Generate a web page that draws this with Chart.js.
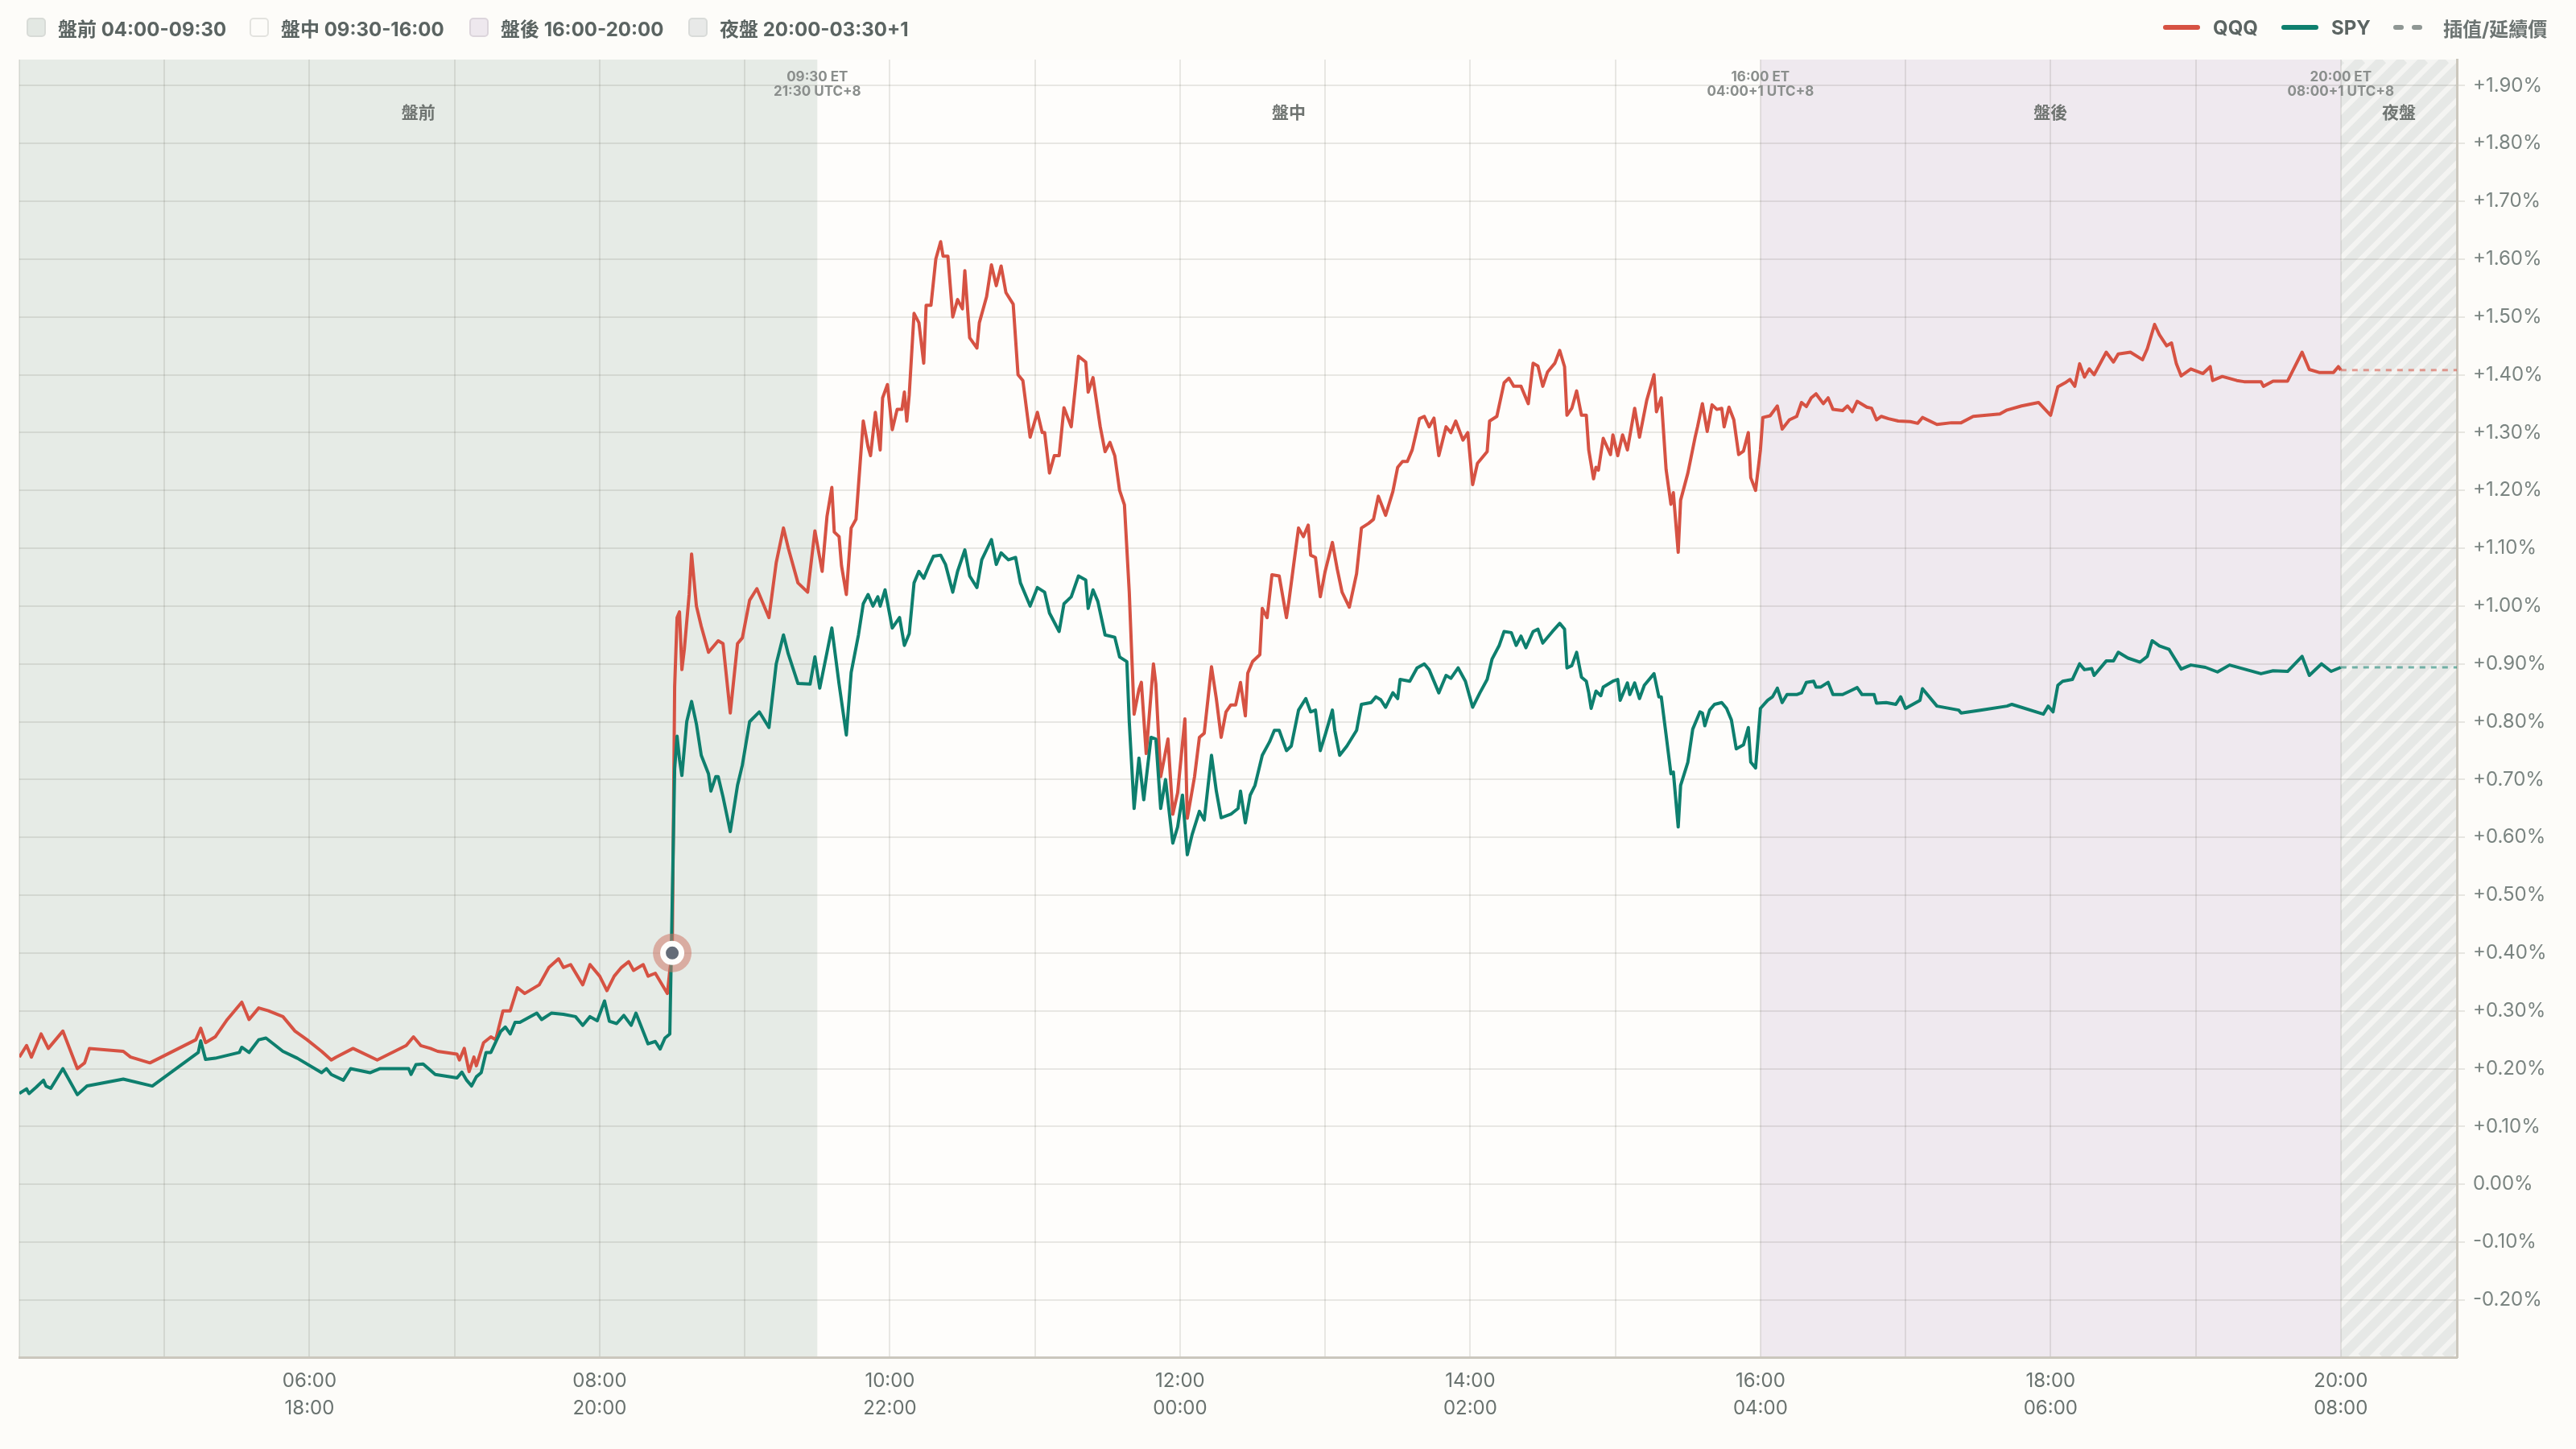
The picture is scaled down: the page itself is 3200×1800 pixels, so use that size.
<!DOCTYPE html>
<html>
<head>
<meta charset="utf-8">
<script src="https://cdn.jsdelivr.net/npm/chart.js@4.4.0/dist/chart.umd.min.js"></script>
<style>
    html, body { margin: 0; padding: 0; background: #fdfcf9; }
    #wrap { position: relative; width: 3200px; height: 1800px; overflow: hidden; }
    #chart { position: absolute; left: 0; top: 0; }
    .lg { position: absolute; top: 14px; height: 40px; display: flex; align-items: center;
          font-family: Inter, "Noto Sans CJK TC", sans-serif; font-weight: 700; font-size: 24px; color: #5b6462; white-space: nowrap; }
    .box { width: 20px; height: 20px; border-radius: 5px; border: 2px solid #d8dbd7; margin-right: 15px; }
    .swatch { width: 46px; height: 6px; border-radius: 3px; margin-right: 16px; }
    .dash { width: 13px; height: 6px; border-radius: 3px; background: #8f9794; margin-right: 10px; }
</style>
</head>
<body>
<div id="wrap">
    <canvas id="chart" width="3200" height="1800"></canvas>
    <div class="lg" style="left:33px"><div class="box" style="background:#e3e8e3"></div><span id="s0"></span></div>
    <div class="lg" style="left:310px"><div class="box" style="background:#fdfcf9;border-color:#e3e3df"></div><span id="s1"></span></div>
    <div class="lg" style="left:583px"><div class="box" style="background:#eee8ee;border-color:#dcd5dc"></div><span id="s2"></span></div>
    <div class="lg" style="left:855px"><div class="box" style="background:#e8e9e8;border-color:#d9dbd9"></div><span id="s3"></span></div>
    <div class="lg" style="left:2687px"><div class="swatch" style="background:#d65243"></div><span id="n0"></span></div>
    <div class="lg" style="left:2834px"><div class="swatch" style="background:#0e7f6e"></div><span id="n1"></span></div>
    <div class="lg" style="left:2973px"><div class="dash"></div><div class="dash" style="margin-right:26px"></div><span id="n2" style="color:#6d7573"></span></div>
</div>
<script>
// sessions (ET)
const sessionNames = ["盤前", "盤中", "盤後", "夜盤"];
const sessionRanges = ["04:00-09:30", "09:30-16:00", "16:00-20:00", "20:00-03:30+1"];
const sessionStarts = ["04:00", "09:30", "16:00", "20:00"];
const boundaryTimes = ["09:30", "16:00", "20:00"];
const boundaryEt = ["09:30 ET", "16:00 ET", "20:00 ET"];
const boundaryLocal = ["21:30 UTC+8", "04:00+1 UTC+8", "08:00+1 UTC+8"];
const seriesNames = ["QQQ", "SPY", "插值/延續價"];

// event marker
const eventTime = "08:30";
const eventPct = 0.40;

// y axis range (%)
const yMin = -0.299;
const yMax = 1.945;
const xEndTime = "20:48";

// QQQ % change
const qqqTimes = [
    "04:00","04:03","04:05","04:09","04:12","04:18","04:24","04:27","04:29","04:43",
    "04:46","04:54","05:13","05:15","05:17","05:21","05:26","05:32","05:35","05:39",
    "05:43","05:49","05:54","05:59","06:05","06:09","06:11","06:18","06:28","06:40",
    "06:43","06:46","06:50","06:53","07:01","07:02","07:04","07:06","07:08","07:09",
    "07:12","07:15","07:17","07:20","07:23","07:26","07:29","07:35","07:39","07:43",
    "07:45","07:48","07:53","07:56","08:00","08:03","08:06","08:09","08:12","08:14",
    "08:18","08:20","08:23","08:28","08:29","08:30","08:31","08:32","08:33","08:34",
    "08:35","08:37","08:38","08:40","08:42","08:45","08:49","08:51","08:54","08:57",
    "08:59","09:02","09:05","09:10","09:13","09:16","09:18","09:22","09:26","09:29",
    "09:32","09:34","09:36","09:37","09:39","09:40","09:42","09:44","09:46","09:47",
    "09:49","09:51","09:52","09:54","09:56","09:57","09:59","10:01","10:03","10:05",
    "10:06","10:07","10:08","10:10","10:12","10:14","10:15","10:17","10:19","10:21",
    "10:22","10:24","10:26","10:28","10:30","10:31","10:33","10:36","10:37","10:40",
    "10:42","10:44","10:46","10:48","10:51","10:53","10:55","10:58","11:01","11:03",
    "11:04","11:06","11:08","11:10","11:12","11:15","11:17","11:18","11:21","11:22",
    "11:24","11:27","11:29","11:31","11:33","11:35","11:37","11:39","11:41","11:43",
    "11:44","11:46","11:49","11:50","11:52","11:55","11:57","11:59","12:02","12:03",
    "12:06","12:08","12:10","12:13","12:15","12:17","12:19","12:21","12:23","12:25",
    "12:27","12:28","12:30","12:33","12:34","12:36","12:38","12:41","12:44","12:45",
    "12:47","12:49","12:51","12:53","12:54","12:56","12:58","13:00","13:03","13:05",
    "13:07","13:10","13:13","13:15","13:18","13:20","13:22","13:25","13:28","13:30",
    "13:32","13:34","13:36","13:39","13:41","13:43","13:45","13:47","13:50","13:52",
    "13:54","13:57","13:59","14:01","14:03","14:07","14:08","14:11","14:14","14:16",
    "14:18","14:21","14:24","14:26","14:28","14:30","14:32","14:35","14:37","14:39",
    "14:40","14:42","14:44","14:46","14:48","14:49","14:51","14:52","14:53","14:55",
    "14:58","14:59","15:01","15:03","15:05","15:08","15:10","15:13","15:16","15:17",
    "15:19","15:21","15:23","15:24","15:26","15:27","15:30","15:33","15:34","15:36",
    "15:38","15:40","15:42","15:44","15:45","15:47","15:49","15:51","15:53","15:55",
    "15:56","15:58","16:00","16:01","16:04","16:07","16:09","16:12","16:15","16:17",
    "16:19","16:21","16:23","16:26","16:28","16:30","16:34","16:36","16:38","16:40",
    "16:44","16:46","16:48","16:50","16:53","16:57","17:02","17:05","17:07","17:13",
    "17:19","17:23","17:28","17:39","17:42","17:48","17:55","18:00","18:03","18:06",
    "18:08","18:10","18:12","18:14","18:16","18:18","18:23","18:26","18:28","18:33",
    "18:38","18:40","18:43","18:45","18:48","18:50","18:52","18:54","18:58","19:03",
    "19:06","19:07","19:11","19:17","19:20","19:27","19:28","19:32","19:38","19:44",
    "19:47","19:51","19:57","19:59","20:00"
];
const qqqPct = [
    0.22,0.24,0.22,0.26,0.235,0.265,0.20,0.21,0.235,0.23,
    0.22,0.21,0.25,0.27,0.245,0.255,0.285,0.315,0.285,0.305,
    0.30,0.29,0.265,0.25,0.23,0.215,0.22,0.235,0.215,0.24,
    0.255,0.24,0.235,0.23,0.225,0.215,0.235,0.195,0.22,0.205,
    0.245,0.255,0.25,0.30,0.30,0.34,0.33,0.345,0.375,0.39,
    0.375,0.38,0.345,0.38,0.36,0.335,0.36,0.375,0.385,0.37,
    0.38,0.36,0.365,0.33,0.37,0.40,0.86,0.98,0.99,0.89,
    0.925,1.02,1.09,1.00,0.965,0.92,0.94,0.935,0.815,0.935,
    0.945,1.01,1.03,0.98,1.075,1.135,1.10,1.04,1.024,1.13,
    1.06,1.155,1.205,1.128,1.12,1.07,1.02,1.135,1.15,1.207,
    1.32,1.275,1.26,1.335,1.27,1.36,1.383,1.305,1.34,1.34,
    1.37,1.32,1.365,1.506,1.49,1.42,1.52,1.52,1.60,1.63,
    1.605,1.605,1.50,1.53,1.514,1.58,1.464,1.446,1.49,1.535,
    1.59,1.554,1.588,1.542,1.522,1.40,1.39,1.292,1.335,1.30,
    1.30,1.23,1.26,1.26,1.343,1.31,1.39,1.432,1.422,1.37,
    1.395,1.31,1.267,1.283,1.26,1.20,1.175,1.024,0.813,0.856,
    0.868,0.745,0.90,0.865,0.705,0.77,0.64,0.677,0.805,0.633,
    0.705,0.773,0.78,0.895,0.84,0.773,0.817,0.829,0.829,0.868,
    0.81,0.884,0.904,0.916,0.996,0.98,1.054,1.052,0.98,1.008,
    1.072,1.135,1.12,1.14,1.088,1.084,1.016,1.06,1.11,1.064,
    1.024,0.998,1.056,1.135,1.143,1.15,1.19,1.157,1.198,1.24,
    1.25,1.25,1.27,1.324,1.328,1.31,1.325,1.26,1.31,1.30,
    1.32,1.287,1.30,1.21,1.247,1.267,1.32,1.328,1.386,1.394,
    1.38,1.38,1.35,1.42,1.415,1.38,1.405,1.42,1.442,1.414,
    1.33,1.342,1.372,1.33,1.33,1.27,1.22,1.24,1.235,1.29,
    1.262,1.296,1.26,1.296,1.27,1.342,1.292,1.356,1.40,1.336,
    1.36,1.236,1.176,1.196,1.093,1.183,1.23,1.292,1.31,1.35,
    1.302,1.348,1.34,1.342,1.31,1.344,1.322,1.262,1.268,1.30,
    1.222,1.20,1.27,1.326,1.329,1.346,1.306,1.322,1.328,1.352,
    1.345,1.36,1.367,1.35,1.36,1.34,1.338,1.346,1.336,1.354,
    1.344,1.342,1.322,1.328,1.324,1.32,1.319,1.316,1.326,1.314,
    1.317,1.317,1.328,1.332,1.339,1.346,1.352,1.33,1.379,1.386,
    1.392,1.38,1.419,1.396,1.41,1.40,1.439,1.422,1.436,1.439,
    1.426,1.445,1.487,1.469,1.45,1.455,1.419,1.398,1.41,1.402,
    1.414,1.39,1.397,1.39,1.388,1.388,1.38,1.389,1.389,1.439,
    1.409,1.404,1.404,1.414,1.408
];

// SPY % change
const spyTimes = [
    "04:00","04:03","04:04","04:07","04:10","04:11","04:13","04:18","04:24","04:28",
    "04:43","04:55","05:14","05:15","05:17","05:21","05:31","05:32","05:35","05:39",
    "05:42","05:49","05:55","06:05","06:07","06:09","06:14","06:17","06:25","06:29",
    "06:41","06:42","06:44","06:47","06:52","07:01","07:03","07:05","07:07","07:09",
    "07:11","07:13","07:15","07:19","07:21","07:23","07:25","07:27","07:34","07:36",
    "07:40","07:45","07:50","07:53","07:56","07:59","08:02","08:04","08:07","08:10",
    "08:13","08:15","08:20","08:23","08:25","08:27","08:29","08:31","08:32","08:33",
    "08:34","08:36","08:38","08:40","08:42","08:45","08:46","08:48","08:49","08:51",
    "08:54","08:57","08:59","09:02","09:06","09:10","09:13","09:16","09:18","09:22",
    "09:27","09:29","09:31","09:34","09:36","09:39","09:42","09:44","09:47","09:49",
    "09:51","09:53","09:55","09:56","09:58","10:01","10:04","10:06","10:08","10:10",
    "10:12","10:14","10:16","10:18","10:21","10:23","10:26","10:28","10:31","10:33",
    "10:36","10:38","10:42","10:44","10:46","10:49","10:52","10:54","10:58","11:01",
    "11:04","11:06","11:10","11:12","11:15","11:18","11:21","11:22","11:24","11:26",
    "11:29","11:33","11:35","11:38","11:39","11:41","11:43","11:45","11:48","11:50",
    "11:52","11:54","11:57","11:59","12:01","12:03","12:05","12:08","12:10","12:13",
    "12:15","12:17","12:21","12:24","12:25","12:27","12:29","12:31","12:34","12:37",
    "12:39","12:41","12:44","12:46","12:49","12:52","12:54","12:56","12:58","13:00",
    "13:03","13:04","13:06","13:09","13:13","13:15","13:19","13:21","13:23","13:25",
    "13:28","13:30","13:31","13:35","13:38","13:41","13:43","13:47","13:50","13:52",
    "13:55","13:58","14:01","14:04","14:07","14:09","14:12","14:14","14:17","14:19",
    "14:21","14:23","14:26","14:28","14:30","14:34","14:37","14:39","14:40","14:42",
    "14:44","14:46","14:48","14:49","14:50","14:52","14:54","14:55","14:59","15:01",
    "15:02","15:05","15:06","15:08","15:10","15:12","15:16","15:18","15:19","15:21",
    "15:23","15:24","15:26","15:27","15:30","15:32","15:35","15:36","15:37","15:39",
    "15:41","15:44","15:46","15:48","15:50","15:53","15:55","15:56","15:58","16:00",
    "16:03","16:05","16:07","16:09","16:11","16:15","16:17","16:19","16:22","16:23",
    "16:25","16:28","16:30","16:34","16:37","16:40","16:42","16:47","16:48","16:52",
    "16:56","16:58","17:00","17:06","17:07","17:13","17:22","17:23","17:31","17:42",
    "17:44","17:57","17:59","18:01","18:03","18:05","18:09","18:12","18:14","18:17",
    "18:18","18:23","18:26","18:28","18:32","18:37","18:40","18:42","18:45","18:49",
    "18:54","18:58","19:04","19:09","19:14","19:27","19:32","19:38","19:44","19:47",
    "19:52","19:56","20:00"
];
const spyPct = [
    0.157,0.165,0.157,0.168,0.18,0.17,0.166,0.20,0.155,0.17,
    0.182,0.17,0.228,0.248,0.216,0.218,0.228,0.237,0.228,0.25,
    0.253,0.23,0.218,0.193,0.20,0.19,0.18,0.20,0.193,0.20,
    0.20,0.19,0.207,0.208,0.19,0.184,0.194,0.18,0.17,0.186,
    0.193,0.228,0.228,0.264,0.272,0.26,0.28,0.28,0.296,0.285,
    0.296,0.294,0.29,0.275,0.29,0.283,0.317,0.282,0.278,0.292,
    0.275,0.296,0.243,0.247,0.234,0.253,0.26,0.718,0.775,0.735,
    0.707,0.80,0.835,0.796,0.742,0.71,0.68,0.705,0.705,0.67,
    0.61,0.69,0.725,0.80,0.817,0.79,0.90,0.95,0.917,0.866,
    0.865,0.912,0.858,0.92,0.962,0.865,0.777,0.885,0.95,1.004,
    1.02,1.0,1.016,1.0,1.028,0.962,0.98,0.932,0.952,1.04,
    1.06,1.048,1.068,1.086,1.088,1.072,1.024,1.06,1.097,1.052,
    1.032,1.08,1.115,1.072,1.092,1.08,1.084,1.04,1.0,1.032,
    1.024,0.988,0.956,1.004,1.016,1.052,1.045,0.996,1.028,1.008,
    0.95,0.946,0.912,0.904,0.80,0.65,0.737,0.665,0.773,0.77,
    0.65,0.70,0.59,0.618,0.673,0.57,0.605,0.645,0.63,0.742,
    0.68,0.634,0.64,0.65,0.68,0.625,0.673,0.69,0.742,0.765,
    0.785,0.785,0.75,0.758,0.82,0.84,0.817,0.82,0.75,0.777,
    0.82,0.785,0.742,0.758,0.785,0.83,0.833,0.843,0.838,0.825,
    0.85,0.84,0.873,0.87,0.893,0.90,0.89,0.85,0.88,0.875,
    0.893,0.87,0.825,0.85,0.873,0.908,0.932,0.956,0.954,0.932,
    0.948,0.928,0.956,0.96,0.936,0.956,0.97,0.96,0.893,0.897,
    0.92,0.877,0.87,0.85,0.823,0.853,0.845,0.86,0.87,0.873,
    0.837,0.867,0.847,0.867,0.84,0.863,0.883,0.843,0.843,0.777,
    0.71,0.713,0.618,0.69,0.73,0.787,0.817,0.815,0.793,0.82,
    0.83,0.833,0.823,0.803,0.753,0.76,0.79,0.73,0.72,0.823,
    0.837,0.843,0.858,0.833,0.847,0.847,0.85,0.868,0.87,0.86,
    0.86,0.868,0.847,0.847,0.853,0.859,0.847,0.847,0.832,0.833,
    0.83,0.843,0.823,0.837,0.857,0.827,0.82,0.815,0.82,0.827,
    0.83,0.813,0.827,0.817,0.863,0.87,0.873,0.90,0.89,0.892,
    0.88,0.905,0.905,0.92,0.91,0.903,0.913,0.94,0.931,0.925,
    0.891,0.898,0.894,0.886,0.898,0.883,0.888,0.887,0.913,0.88,
    0.90,0.887,0.894
];

const FONT = "Inter, 'Noto Sans CJK TC', sans-serif";
const QQQ_COLOR = "#d65243";
const SPY_COLOR = "#0e7f6e";

const toMin = (s) => {
    const [h, m] = s.split(":").map(Number);
    return h * 60 + m;
};
const hhmm = (m) => String(Math.floor(m / 60) % 24).padStart(2, "0") + ":" + String(m % 60).padStart(2, "0");

const toPoints = (times, vals) => {
    if (times.length !== vals.length) console.error("length mismatch", times.length, vals.length);
    return times.map((t, i) => ({ x: toMin(t), y: vals[i] }));
};

const xMin = toMin(sessionStarts[0]);
const xMax = toMin(xEndTime);

// legend texts
sessionNames.forEach((n, i) => { document.getElementById("s" + i).textContent = n + " " + sessionRanges[i]; });
seriesNames.forEach((n, i) => { document.getElementById("n" + i).textContent = n; });

const qqqPoints = toPoints(qqqTimes, qqqPct);
const spyPoints = toPoints(spyTimes, spyPct);
const lastQqq = qqqPoints[qqqPoints.length - 1];
const lastSpy = spyPoints[spyPoints.length - 1];

// session backgrounds, hatching and labels
const sessionBands = {
    id: "sessionBands",
    beforeDraw(chart) {
        const { ctx, chartArea: a, scales: { x } } = chart;
        ctx.save();
        ctx.fillStyle = "#fdfcf9";
        ctx.fillRect(0, 0, chart.width, chart.height);
        ctx.fillStyle = "#fefdfb";
        ctx.fillRect(a.left, a.top, a.right - a.left, a.bottom - a.top);

        const fills = ["#e6ebe6", null, "#efe9ef", "hatch"];
        sessionStarts.forEach((s, i) => {
            const x0 = x.getPixelForValue(toMin(s));
            const x1 = i < sessionStarts.length - 1 ? x.getPixelForValue(toMin(sessionStarts[i + 1])) : a.right;
            if (fills[i] === "hatch") {
                ctx.save();
                ctx.beginPath();
                ctx.rect(x0, a.top, x1 - x0, a.bottom - a.top);
                ctx.clip();
                ctx.fillStyle = "#f4f4f2";
                ctx.fillRect(x0, a.top, x1 - x0, a.bottom - a.top);
                ctx.strokeStyle = "#e6e8e6";
                ctx.lineWidth = 12;
                const h = a.bottom - a.top;
                for (let k = -h; k < x1 - x0 + 30; k += 26) {
                    ctx.beginPath();
                    ctx.moveTo(x0 + k, a.bottom);
                    ctx.lineTo(x0 + k + h, a.top);
                    ctx.stroke();
                }
                ctx.restore();
            } else if (fills[i]) {
                ctx.fillStyle = fills[i];
                ctx.fillRect(x0, a.top, x1 - x0, a.bottom - a.top);
            }
        });
        ctx.restore();
    },
    beforeDatasetsDraw(chart) {
        const { ctx, chartArea: a, scales: { x } } = chart;
        ctx.save();
        ctx.textAlign = "center";
        ctx.textBaseline = "middle";
        ctx.fillStyle = "#6f7471";
        ctx.font = "700 21px " + FONT;
        sessionNames.forEach((n, i) => {
            const x0 = x.getPixelForValue(toMin(sessionStarts[i]));
            const x1 = i < sessionStarts.length - 1 ? x.getPixelForValue(toMin(sessionStarts[i + 1])) : a.right;
            ctx.fillText(n, (x0 + x1) / 2, a.top + 67);
        });
        ctx.fillStyle = "#8a8e8c";
        ctx.font = "700 17px " + FONT;
        boundaryTimes.forEach((t, i) => {
            const px = x.getPixelForValue(toMin(t));
            ctx.fillText(boundaryEt[i], px, a.top + 22);
            ctx.fillText(boundaryLocal[i], px, a.top + 40);
        });
        ctx.restore();
    }
};

const fmtPct = (v) => {
    if (Math.abs(v) < 1e-9) return "0.00%";
    return (v > 0 ? "+" : "") + v.toFixed(2) + "%";
};

const gridColor = "rgba(70, 70, 60, 0.12)";

new Chart(document.getElementById("chart").getContext("2d"), {
    type: "line",
    data: {
        datasets: [
            {
                label: "event dot",
                data: [{ x: toMin(eventTime), y: eventPct }],
                showLine: false,
                pointRadius: 11.5,
                pointBorderWidth: 7,
                pointBackgroundColor: "#646c78",
                pointBorderColor: "#fefdfb",
                order: 1
            },
            {
                label: "event halo",
                data: [{ x: toMin(eventTime), y: eventPct }],
                showLine: false,
                pointRadius: 24,
                pointBorderWidth: 0,
                pointBackgroundColor: "rgba(205, 120, 104, 0.55)",
                order: 2
            },
            {
                label: seriesNames[0],
                data: qqqPoints,
                borderColor: QQQ_COLOR,
                borderWidth: 4,
                pointRadius: 0,
                tension: 0,
                borderJoinStyle: "round",
                order: 4
            },
            {
                label: seriesNames[1],
                data: spyPoints,
                borderColor: SPY_COLOR,
                borderWidth: 4,
                pointRadius: 0,
                tension: 0,
                borderJoinStyle: "round",
                order: 3
            },
            {
                label: seriesNames[2] + " QQQ",
                data: [lastQqq, { x: xMax, y: lastQqq.y }],
                borderColor: "rgba(214, 82, 67, 0.55)",
                borderWidth: 3,
                borderDash: [7, 7],
                pointRadius: 0,
                order: 5
            },
            {
                label: seriesNames[2] + " SPY",
                data: [lastSpy, { x: xMax, y: lastSpy.y }],
                borderColor: "rgba(14, 127, 110, 0.55)",
                borderWidth: 3,
                borderDash: [7, 7],
                pointRadius: 0,
                order: 5
            }
        ]
    },
    options: {
        responsive: false,
        animation: false,
        devicePixelRatio: 1,
        layout: { padding: { left: 20, top: 74, right: 0, bottom: 0 } },
        plugins: {
            legend: { display: false },
            tooltip: { enabled: false }
        },
        scales: {
            x: {
                type: "linear",
                min: xMin,
                max: xMax,
                afterFit: (s) => {
                    s.height = 114;
                    s.paddingLeft = 0;
                    s.paddingRight = 0;
                },
                grid: { color: gridColor, lineWidth: 2, drawTicks: false },
                border: { display: true, color: "#cbc7bd", width: 3 },
                ticks: {
                    stepSize: 60,
                    includeBounds: false,
                    autoSkip: false,
                    maxRotation: 0,
                    padding: 12,
                    color: "#69726f",
                    font: { family: FONT, size: 24, lineHeight: 1.45 },
                    callback: (v) => {
                        if (v % 120 !== 0 || v === xMin) return "";
                        return [hhmm(v), hhmm((v + 720) % 1440)];
                    }
                }
            },
            y: {
                position: "right",
                min: yMin,
                max: yMax,
                afterFit: (s) => { s.width = 148; },
                grid: { color: gridColor, lineWidth: 2, tickLength: 10, drawTicks: true },
                border: { display: true, color: "#cbc7bd", width: 3 },
                ticks: {
                    stepSize: 0.1,
                    includeBounds: false,
                    padding: 10,
                    color: "#7a8481",
                    font: { family: FONT, size: 24 },
                    callback: (v) => fmtPct(v)
                }
            }
        }
    },
    plugins: [sessionBands]
});
</script>
</body>
</html>
